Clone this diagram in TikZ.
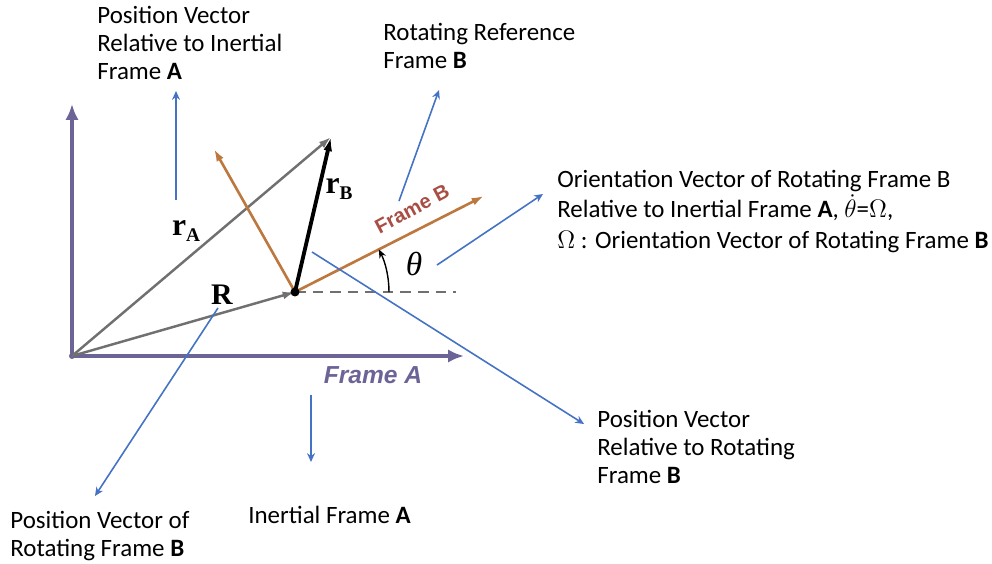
\documentclass[tikz,border=0pt]{standalone}
\usepackage{fontspec}
\setmainfont{Carlito}
\newfontfamily\vecfont{Liberation Serif}
\newfontfamily\axisfont{Liberation Sans}
\usetikzlibrary{arrows.meta}
\definecolor{frameA}{RGB}{108,100,150}
\definecolor{vecgray}{RGB}{112,112,112}
\definecolor{frameB}{RGB}{188,120,62}
\definecolor{frameBtext}{RGB}{168,78,68}
\definecolor{callout}{RGB}{68,114,196}
\begin{document}
\begin{tikzpicture}[x=0.02cm,y=-0.02cm,
  note/.style={anchor=north west,inner sep=0pt,align=left,font=\fontsize{14.2}{15.9}\selectfont},
  pointer/.style={callout,line width=0.9pt,-{Stealth[length=5pt,width=4.5pt]}},
  axisA/.style={frameA,line width=2.8pt,-{Latex[length=9pt,width=7.5pt]}},
  vecgrey/.style={vecgray,line width=1.4pt,-{Latex[length=7pt,width=4.5pt]}},
  axisB/.style={frameB,line width=1.5pt,-{Latex[length=7pt,width=4.5pt]}},
  sym/.style={inner sep=0pt,font=\vecfont\bfseries\fontsize{18}{18}\selectfont}]
\useasboundingbox (0,0) rectangle (992,564);
\coordinate (O) at (72,356);
\coordinate (P) at (295,292);
\coordinate (T) at (331,137);
\coordinate (Ax) at (464,356);
\coordinate (Ay) at (72,104);
\coordinate (Bx) at (484,196);
\coordinate (By) at (214,149);
\coordinate (D) at (456,292);
\coordinate (arc0) at (389,292);
\draw[axisA] (O) -- (Ax);
\draw[axisA] (O) -- (Ay);
\fill[frameA] (O) circle[radius=3];
\node[font=\axisfont\bfseries\itshape\fontsize{14}{14}\selectfont,text=frameA] (fA) at (373,375) {Frame A};
\draw[vecgray,line width=1.1pt,dash pattern=on 6pt off 4pt] (P) -- (D);
\draw[vecgrey] (O) -- (P);
\draw[vecgrey] (O) -- (T);
\draw[axisB] (P) -- (Bx);
\draw[axisB] (P) -- (By);
\draw[black,line width=2.2pt,-{Latex[length=8pt,width=5pt]}] (P) -- (T);
\fill (P) circle[radius=4.5];
\node[font=\axisfont\bfseries\fontsize{11.5}{11.5}\selectfont,text=frameBtext,rotate=28] (fB) at (412,209) {Frame B};
\draw[black,line width=0.8pt,-{Stealth[length=5pt,width=4pt]}] (arc0) arc[start angle=0,end angle=-27,radius=94];
\node[font=\vecfont\itshape\fontsize{19}{19}\selectfont] (th) at (414,264) {θ};
\node[sym] (rA) at (186,231) {r\raisebox{-0.45ex}{\fontsize{11}{11}\selectfont A}};
\node[sym] (rB) at (339,189) {r\raisebox{-0.45ex}{\fontsize{11}{11}\selectfont B}};
\node[sym,font=\vecfont\bfseries\fontsize{17}{17}\selectfont] (R) at (222,295) {R};
\node[note] (nA) at (97,6) {Position Vector\\Relative to Inertial\\Frame \textbf{A}};
\node[note] (nB) at (383,23) {Rotating Reference\\Frame \textbf{B}};
\node[note,font=\fontsize{14.2}{17.3}\selectfont] (nOm) at (557,170) {Orientation Vector of Rotating Frame B\\Relative to Inertial Frame \textbf{A}, $\dot{\theta}$=$\Omega$,\\$\Omega$ : Orientation Vector of Rotating Frame \textbf{B}};
\node[note] (nRB) at (597,410) {Position Vector\\Relative to Rotating\\Frame \textbf{B}};
\node[note] (nI) at (248,506) {Inertial Frame \textbf{A}};
\node[note] (nPR) at (10,511) {Position Vector of\\Rotating Frame \textbf{B}};
\coordinate (p1s) at (176,200);
\coordinate (p1e) at (176,91);
\coordinate (p2s) at (399,201);
\coordinate (p2e) at (439,90);
\coordinate (p3s) at (437,265);
\coordinate (p3e) at (543,194);
\coordinate (p4s) at (312,252);
\coordinate (p4e) at (584,424);
\coordinate (p5s) at (311,395);
\coordinate (p5e) at (311,462);
\coordinate (p6s) at (218,308);
\coordinate (p6e) at (95,496);
\draw[pointer] (p1s) -- (p1e);
\draw[pointer] (p2s) -- (p2e);
\draw[pointer] (p3s) -- (p3e);
\draw[pointer] (p4s) -- (p4e);
\draw[pointer] (p5s) -- (p5e);
\draw[pointer] (p6s) -- (p6e);
\end{tikzpicture}
\end{document}
